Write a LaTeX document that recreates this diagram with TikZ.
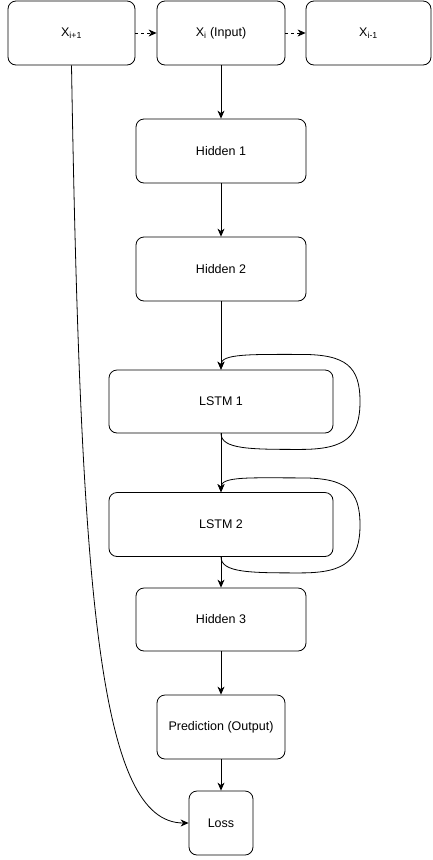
\documentclass[tikz,border=0pt]{standalone}
\usepackage{fontspec}
\setmainfont{Liberation Sans}
\usepackage{tikz}
\usetikzlibrary{arrows.meta}

\begin{document}
\begin{tikzpicture}[x=1pt, y=-1pt,
    box/.style={draw, rounded corners=8pt, line width=0.8pt, inner sep=0pt,
        minimum height=64pt, font=\fontsize{12.5}{14}\selectfont},
    arr/.style={-{Stealth[length=8pt,width=7pt,inset=2.5pt]}, line width=0.8pt}]
    \useasboundingbox (0,0) rectangle (432,860);

    % Input sequence
    \node[box, minimum width=127pt] (xplus) at (71.5,33) {X\textsubscript{i+1}};
    \node[box, minimum width=128pt] (xin) at (221,33) {X\textsubscript{i} (Input)};
    \node[box, minimum width=125pt] (xminus) at (368.5,33) {X\textsubscript{i-1}};

    % Network layers
    \node[box, minimum width=170pt] (hid1) at (221,151) {Hidden 1};
    \node[box, minimum width=170pt] (hid2) at (221,269) {Hidden 2};
    \node[box, minimum width=224pt, minimum height=63pt] (lstm1) at (221,401.5) {LSTM 1};
    \node[box, minimum width=224pt, minimum height=64pt] (lstm2) at (221,524.5) {LSTM 2};
    \node[box, minimum width=170pt, minimum height=63pt] (hid3) at (221,619.5) {Hidden 3};
    \node[box, minimum width=128pt] (pred) at (221,727) {Prediction (Output)};
    \node[box, minimum width=64pt] (loss) at (221,823) {Loss};

    % Sequence arrows
    \draw[arr, dashed] (xplus) -- (xin);
    \draw[arr, dashed] (xin) -- (xminus);

    % Forward pass
    \draw[arr] (xin) -- (hid1);
    \draw[arr] (hid1) -- (hid2);
    \draw[arr] (hid2) -- (lstm1);
    \draw[arr] (lstm1) -- (lstm2);
    \draw[arr] (lstm2) -- (hid3);
    \draw[arr] (hid3) -- (pred);
    \draw[arr] (pred) -- (loss);

    % Recurrent loops
    \foreach \cell in {lstm1,lstm2} {
        \draw[arr] (\cell.south) .. controls +(0,16) and +(-50,0) .. ++(80,16)
            .. controls +(45,0) and +(0,35) .. ++(59,-48)
            .. controls +(0,-35) and +(45,0) .. ++(-59,-47)
            .. controls +(-50,0) and +(0,-16) .. (\cell.north);
    }

    % Target to loss
    \draw[arr] (xplus.south) .. controls +(9,535) and +(-89,0) .. (loss.west);
\end{tikzpicture}
\end{document}
